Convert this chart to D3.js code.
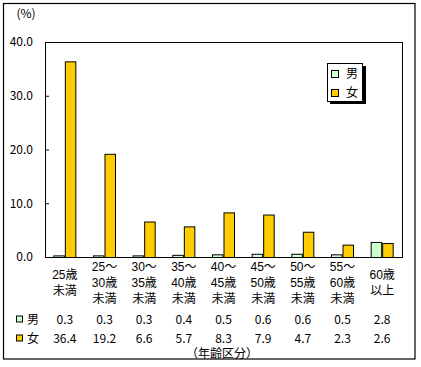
<!DOCTYPE html>
<html><head><meta charset="utf-8">
<script src="https://cdn.jsdelivr.net/npm/d3@7"></script>
<style>
html,body{margin:0;padding:0;background:#fff;}
svg text{font-family:"Noto Sans CJK JP","Noto Sans",sans-serif;fill:#000;}
svg text.cat{font-family:"Liberation Sans","Noto Sans CJK JP",sans-serif;}
</style></head>
<body>
<svg id="c" width="421" height="367"></svg>
<script>
const categories = ["25歳未満","25～30歳未満","30～35歳未満","35～40歳未満","40～45歳未満","45～50歳未満","50～55歳未満","55～60歳未満","60歳以上"];
const categoryLines = [["25歳","未満"],["25～","30歳","未満"],["30～","35歳","未満"],["35～","40歳","未満"],["40～","45歳","未満"],["45～","50歳","未満"],["50～","55歳","未満"],["55～","60歳","未満"],["60歳","以上"]];
const seriesNames = ["男","女"];
const male = [0.3,0.3,0.3,0.4,0.5,0.6,0.6,0.5,2.8];
const female = [36.4,19.2,6.6,5.7,8.3,7.9,4.7,2.3,2.6];
const yTicks = [0,10,20,30,40];
const colors = ["#CCFFCC","#FFCC00"];

const svg = d3.select("#c");
const L=45,R=402,T=42,B=257;

svg.append("rect").attr("x",3.5).attr("y",3.5).attr("width",411.5).attr("height",355.5)
  .attr("fill","none").attr("stroke","#000").attr("stroke-width",1.2);

const x = d3.scaleBand().domain(categories).range([L,R]).paddingInner(0).paddingOuter(0);
const y = d3.scaleLinear().domain([0,40]).range([B,T]);
const bw = 11.5;

const ax = svg.append("g").attr("transform",`translate(${L},0)`)
  .call(d3.axisLeft(y).tickValues(yTicks).tickSize(-4).tickPadding(12).tickFormat(d3.format(".1f")));
ax.select(".domain").remove();
ax.selectAll("line").attr("stroke","#000");
ax.selectAll("text").style("font-size","12px");

svg.append("text").attr("x",26).attr("y",14).attr("dy","0.35em").attr("text-anchor","middle")
  .style("font-size","12px").text("(%)");

const series = [male,female];
series.forEach((vals,si)=>{
  svg.append("g").selectAll("rect").data(vals).join("rect")
    .attr("x",(d,i)=>x(categories[i])+x.bandwidth()/2 + (si===0?-bw:0)+0.5)
    .attr("y",d=>y(d)+0.5)
    .attr("width",bw-1)
    .attr("height",d=>B-y(d))
    .attr("fill",colors[si]).attr("stroke","#000").attr("stroke-width",1);
});

svg.append("rect").attr("x",L+0.5).attr("y",T+0.5).attr("width",R-L).attr("height",B-T)
  .attr("fill","none").attr("stroke","#000").attr("stroke-width",1);

categoryLines.forEach((lines,i)=>{
  const cx = x(categories[i])+x.bandwidth()/2;
  const startY = 283 - (lines.length-1)*16/2;
  lines.forEach((ln,j)=>{
    svg.append("text").attr("class","cat").attr("x",cx).attr("y",startY+j*16).attr("dy","0.35em")
      .attr("text-anchor","middle").style("font-size","12px").text(ln);
  });
});

const rowY=[319.5,338.5];
series.forEach((vals,si)=>{
  svg.append("rect").attr("x",16.5).attr("y",rowY[si]-3.5).attr("width",6).attr("height",6)
    .attr("fill",colors[si]).attr("stroke","#000");
  svg.append("text").attr("x",33).attr("y",rowY[si]).attr("dy","0.35em").attr("text-anchor","middle")
    .style("font-size","12px").text(seriesNames[si]);
  svg.append("g").selectAll("text").data(vals).join("text")
    .attr("x",(d,i)=>x(categories[i])+x.bandwidth()/2).attr("y",rowY[si]).attr("dy","0.35em")
    .attr("text-anchor","middle").style("font-size","12px").text(d=>d.toFixed(1));
});
svg.append("text").attr("x",222).attr("y",354).attr("dy","0.35em").attr("text-anchor","middle")
  .style("font-size","12px").text("（年齢区分）");

const lg = svg.append("g");
lg.append("rect").attr("x",330).attr("y",66).attr("width",36).attr("height",38).attr("fill","#000");
lg.append("rect").attr("x",327.5).attr("y",63.5).attr("width",35).attr("height",38).attr("fill","#fff").attr("stroke","#000");
seriesNames.forEach((n,si)=>{
  const cy = [74,93][si];
  lg.append("rect").attr("x",331.5).attr("y",cy-3.5).attr("width",7).attr("height",7)
    .attr("fill",colors[si]).attr("stroke","#000");
  lg.append("text").attr("x",346).attr("y",cy).attr("dy","0.35em").style("font-size","12px").text(n);
});
</script>
</body></html>
